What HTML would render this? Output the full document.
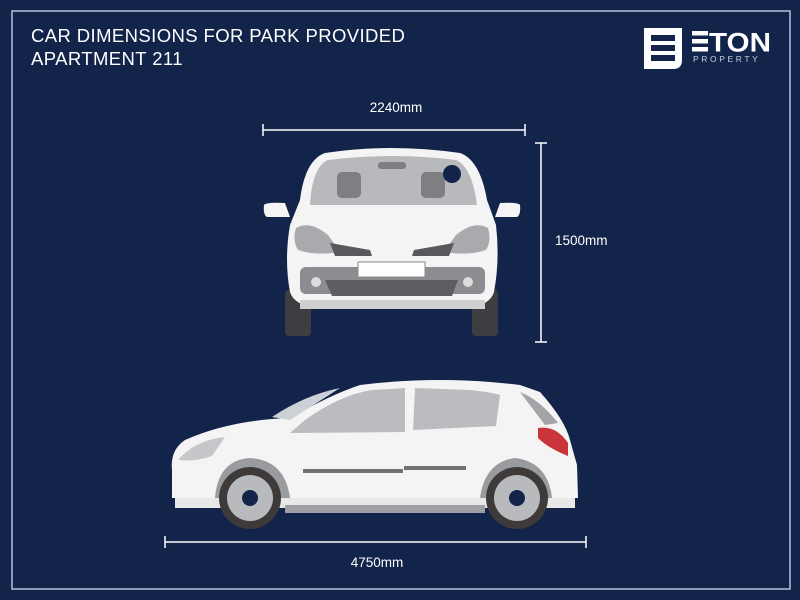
<!DOCTYPE html>
<html><head><meta charset="utf-8"><style>
html,body{margin:0;padding:0;background:#13244a;}
body{width:800px;height:600px;overflow:hidden;position:relative;font-family:"Liberation Sans",sans-serif;}
</style></head><body>
<svg width="800" height="600" viewBox="0 0 800 600" xmlns="http://www.w3.org/2000/svg" style="position:absolute;left:0;top:0">
<rect width="800" height="600" fill="#13244a"/>
<rect x="12" y="11" width="778" height="578" fill="none" stroke="#b9c2dc" stroke-width="1.5"/>
<text x="31" y="42" fill="#fff" font-size="18.5" letter-spacing="0.4" font-family="Liberation Sans,sans-serif">CAR DIMENSIONS FOR PARK PROVIDED</text>
<text x="31" y="65" fill="#fff" font-size="18.5" letter-spacing="0.4" font-family="Liberation Sans,sans-serif">APARTMENT 211</text>
<!-- logo -->
<path d="M644 28 H682 V60 Q682 69 673 69 H644 Z" fill="#fff"/>
<rect x="651" y="35" width="24" height="6" fill="#13244a"/>
<rect x="651" y="45" width="24" height="6" fill="#13244a"/>
<rect x="651" y="55" width="24" height="6" fill="#13244a"/>
<rect x="692" y="31" width="16" height="4.5" fill="#fff"/>
<rect x="692" y="39" width="16" height="4.5" fill="#fff"/>
<rect x="692" y="47" width="16" height="4.5" fill="#fff"/>
<text x="709" y="51.5" fill="#fff" font-size="27" font-weight="bold" font-family="Liberation Sans,sans-serif" textLength="62" lengthAdjust="spacingAndGlyphs">TON</text>
<text x="693" y="62" fill="#c8cee0" font-size="8.5" letter-spacing="2.6" font-family="Liberation Sans,sans-serif">PROPERTY</text>
<!-- dimensions -->
<g stroke="#fff" stroke-width="1.5" fill="none">
<line x1="263" y1="130" x2="525" y2="130"/><line x1="263" y1="124" x2="263" y2="136"/><line x1="525" y1="124" x2="525" y2="136"/>
<line x1="541" y1="143" x2="541" y2="342"/><line x1="535" y1="143" x2="547" y2="143"/><line x1="535" y1="342" x2="547" y2="342"/>
<line x1="165" y1="542" x2="586" y2="542"/><line x1="165" y1="536" x2="165" y2="548"/><line x1="586" y1="536" x2="586" y2="548"/>
</g>
<g fill="#fff" font-size="13.5" font-family="Liberation Sans,sans-serif">
<text x="396" y="112" text-anchor="middle">2240mm</text>
<text x="555" y="245">1500mm</text>
<text x="377" y="567" text-anchor="middle">4750mm</text>
</g>
<!-- front car -->
<rect x="285" y="290" width="26" height="46" rx="4" fill="#3e3e42"/>
<rect x="472" y="290" width="26" height="46" rx="4" fill="#3e3e42"/>
<path d="M300 200 Q305 160 325 153 Q390 143 460 153 Q480 160 487 200 L496 225 Q500 260 494 292 Q490 305 470 307 H315 Q294 305 290 292 Q284 260 290 225 Z" fill="#f4f4f4"/>
<path d="M310 205 Q312 167 328 160 Q392 152 456 160 Q472 167 477 205 Z" fill="#b8b9bc"/>
<rect x="337" y="172" width="24" height="26" rx="5" fill="#7e7f83"/>
<rect x="421" y="172" width="24" height="26" rx="5" fill="#7e7f83"/>
<circle cx="452" cy="174" r="9" fill="#13244a"/>
<rect x="378" y="162" width="28" height="7" rx="3" fill="#7e7f83"/>
<path d="M264 205 Q266 202 285 203 L290 217 H267 Q263 215 264 205 Z" fill="#f4f4f4"/>
<path d="M520 205 Q518 202 500 203 L495 217 H517 Q521 215 520 205 Z" fill="#f4f4f4"/>
<path d="M296 228 Q310 220 328 235 L340 252 Q315 256 298 250 Q292 240 296 228Z" fill="#a9aaae"/>
<path d="M488 228 Q474 220 456 235 L444 252 Q469 256 486 250 Q492 240 488 228Z" fill="#a9aaae"/>
<path d="M330 243 L370 250 L372 256 H335 Z" fill="#58595d"/>
<path d="M454 243 L414 250 L412 256 H449 Z" fill="#58595d"/>
<rect x="300" y="267" width="185" height="27" rx="6" fill="#8c8d91"/>
<rect x="358" y="262" width="67" height="15" fill="#fff" stroke="#888" stroke-width="1"/>
<path d="M325 280 H458 L452 296 H332 Z" fill="#5d5e62"/>
<circle cx="316" cy="282" r="5" fill="#ddd"/><circle cx="468" cy="282" r="5" fill="#ddd"/>
<rect x="300" y="300" width="185" height="9" fill="#cfcfd1"/>
<!-- side car -->
<path d="M172 470 Q170 450 185 440 Q230 420 290 418 Q330 395 360 385 Q440 375 520 385 L540 392 Q565 420 570 440 L577 465 L578 498 H172 Z" fill="#f4f4f4"/>
<path d="M290 433 L305 420 Q340 395 372 390 L405 388 L405 432 Z" fill="#bbbcbf"/>
<path d="M415 388 L470 390 Q490 392 500 395 L496 426 L413 430 Z" fill="#bbbcbf"/>
<path d="M520 392 Q540 400 558 423 L545 425 Z" fill="#a3a4a8"/>
<path d="M538 428 Q556 425 568 443 L568 456 Q548 448 538 438 Z" fill="#c9353b"/>
<path d="M272 417 Q305 395 340 388 L290 420 Z" fill="#cdd0d6"/>
<rect x="303" y="469" width="100" height="4" fill="#707175"/>
<rect x="404" y="466" width="62" height="4" fill="#707175"/>
<path d="M215 498 Q218 460 250 458 Q285 460 290 498 Z" fill="#9a9b9f"/>
<path d="M480 498 Q485 462 515 458 Q548 462 552 498 Z" fill="#9a9b9f"/>
<rect x="175" y="498" width="400" height="10" fill="#e8e8e9"/>
<rect x="285" y="505" width="200" height="8" fill="#9fa0a4"/>
<circle cx="250" cy="498" r="31" fill="#3e3a3a"/><circle cx="250" cy="498" r="23" fill="#b9babd"/><circle cx="250" cy="498" r="8" fill="#13244a"/>
<circle cx="517" cy="498" r="31" fill="#3e3a3a"/><circle cx="517" cy="498" r="23" fill="#b9babd"/><circle cx="517" cy="498" r="8" fill="#13244a"/>
<path d="M178 460 Q195 440 225 437 L212 456 Q195 462 178 460Z" fill="#c5c7cb"/>
</svg>
</body></html>
